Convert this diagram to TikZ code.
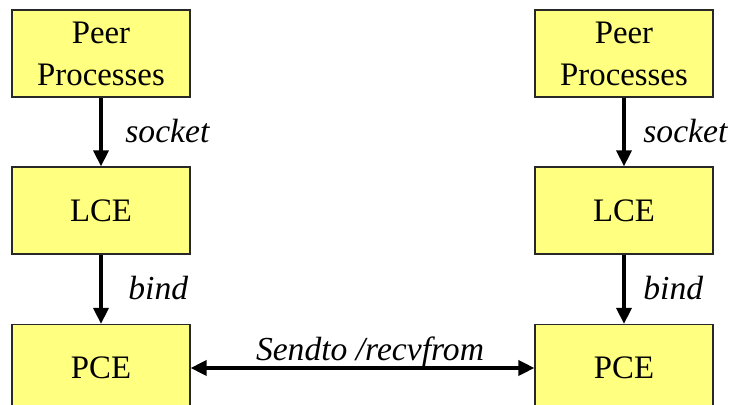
\documentclass[tikz,border=0pt]{standalone}
\usepackage{fontspec}
\setmainfont{Liberation Serif}
\usetikzlibrary{arrows.meta}
\definecolor{boxfill}{RGB}{255,255,128}
\definecolor{boxline}{RGB}{40,40,40}
\begin{document}
\begin{tikzpicture}[x=0.5pt,y=-0.5pt,
  entity/.style={draw=boxline,line width=0.6pt,fill=boxfill,inner sep=0pt,
    minimum width=89pt,minimum height=43.5pt,align=center,
    font=\fontsize{16.4}{21}\selectfont},
  link/.style={line width=1.6pt,-{Triangle[length=8pt,width=7.5pt]}},
  biglink/.style={line width=1.8pt,{Triangle[length=8pt,width=7.5pt]}-{Triangle[length=8pt,width=7.5pt]}},
  tag/.style={font=\fontsize{16.8}{19}\selectfont\itshape,inner sep=0pt}]
\useasboundingbox (0,0) rectangle (729,405);
\clip (0,0) rectangle (729,405);
% left column
\node[entity] (peerL) at (101,53.5) {Peer\\Processes};
\node[entity] (lceL) at (101,210.5) {LCE};
\node[entity] (pceL) at (101,368) {PCE};
% right column
\node[entity] (peerR) at (624,53.5) {Peer\\Processes};
\node[entity] (lceR) at (624,210.5) {LCE};
\node[entity] (pceR) at (624,368) {PCE};
% vertical connectors
\draw[link] (peerL) -- (lceL);
\draw[link] (lceL) -- (pceL);
\draw[link] (peerR) -- (lceR);
\draw[link] (lceR) -- (pceR);
% connector between the two physical endpoints
\draw[biglink] (pceL) -- (pceR);
% labels
\node[tag,anchor=base west] (sockL) at (125,143) {socket};
\node[tag,anchor=base west] (bindL) at (128,300) {bind};
\node[tag,anchor=base west] (sockR) at (643,143) {socket};
\node[tag,anchor=base west] (bindR) at (643,300) {bind};
\node[tag,anchor=base] (send) at (370,361) {Sendto /recvfrom};
\end{tikzpicture}
\end{document}
